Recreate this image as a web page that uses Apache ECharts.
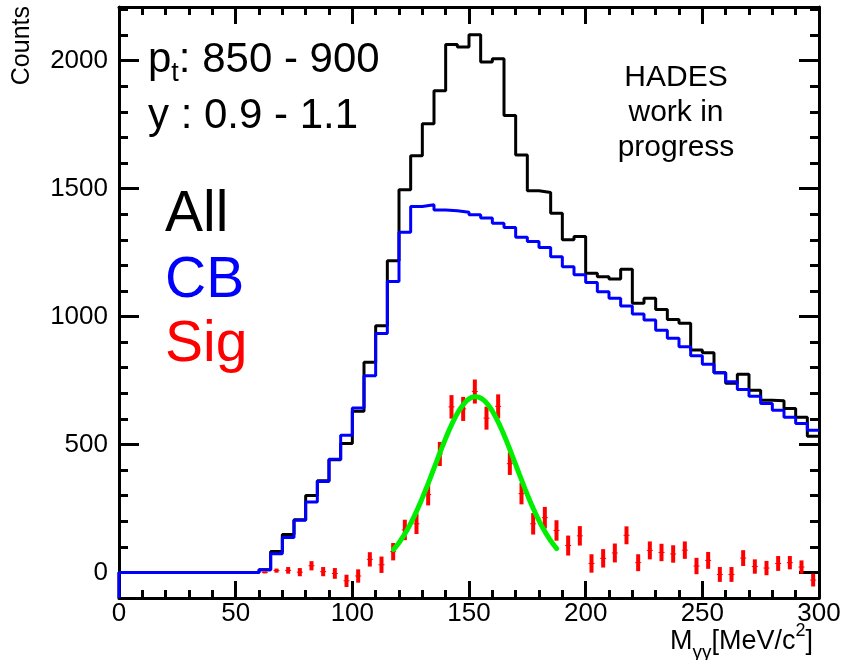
<!DOCTYPE html>
<html>
<head>
<meta charset="utf-8">
<title>M_gg spectrum</title>
<script src="https://cdn.jsdelivr.net/npm/echarts@6/dist/echarts.min.js"></script>
<style>
  html, body { margin: 0; padding: 0; background: #fff; }
  #chart { width: 842px; height: 660px; }
</style>
</head>
<body>
<div id="chart"></div>
<script>
// histogram binning: 60 bins of 5 MeV/c2 from 0 to 300
var binWidth = 5;
var xMin = 0, xMax = 300;
var yMin = -100, yMax = 2210;

// "All" (black)
var allCounts = [
  0, 0, 0, 0, 0, 0, 0, 0, 0, 0, 0, 0,
  10, 82, 148, 206, 301, 358, 440, 504, 630, 821,
  964, 1218, 1496, 1629, 1754, 1883, 2063, 2054, 2102, 1995,
  2008, 1786, 1632, 1492, 1485, 1404, 1300, 1313, 1169, 1156,
  1147, 1185, 1052, 1072, 1028, 989, 974, 869, 859, 780,
  739, 775, 712, 673, 671, 641, 606, 532
];
// "CB" combinatorial background (blue)
var cbCounts = [
  0, 0, 0, 0, 0, 0, 0, 0, 0, 0, 0, 0,
  10, 73, 136, 204, 275, 355, 442, 536, 643, 769,
  934, 1137, 1330, 1430, 1437, 1417, 1414, 1408, 1398, 1385,
  1365, 1348, 1310, 1293, 1270, 1234, 1195, 1163, 1133, 1097,
  1072, 1041, 1010, 987, 947, 915, 882, 847, 814, 780,
  745, 715, 689, 660, 634, 606, 582, 556
];
// "Sig" signal points (red) and their errors
var sigValues = [
  null, null, null, null, null, null, null, null, null, null, null, null,
  0, 7, 8, 1, 26, 3, -4, -33, -14, 51,
  30, 81, 166, 190, 304, 463, 647, 639, 707, 603,
  649, 425, 308, 190, 214, 164, 105, 143, 35, 55,
  76, 145, 38, 86, 78, 72, 87, 25, 47, -8,
  -8, 56, 23, 17, 35, 38, 21, -30
];
var sigErrors = [
  null, null, null, null, null, null, null, null, null, null, null, null,
  4, 8, 13, 16, 18, 18, 21, 24, 26, 28,
  32, 34, 40, 40, 42, 47, 46, 47, 47, 45,
  47, 44, 42, 42, 42, 40, 39, 38, 36, 36,
  37, 35, 33, 35, 34, 34, 34, 32, 33, 29,
  29, 31, 28, 28, 29, 26, 26, 25
];

// gaussian fit (green), parameters
var fitAmp = 687, fitMean = 152.8, fitSigma = 17.4;
var fitFrom = 117.6, fitTo = 187.9;

var font = '"Liberation Sans", Arial, Helvetica, sans-serif';

// plot frame in pixels
var gLeft = 119, gRight = 23, gTop = 7, gBottom = 62;
var plotH = 660 - gTop - gBottom;
// major-tick axis starts at -500 so its 500-steps land on 0, 500, ...; its grid reaches below the frame
var tickMin = -500;
var tickBottom = gBottom - (yMin - tickMin) * plotH / (yMax - yMin);

// step outline, ROOT style: start from frame bottom
function stepData(counts) {
  var pts = [[xMin, yMin]];
  for (var i = 0; i < counts.length; i++) pts.push([i * binWidth, counts[i]]);
  pts.push([counts.length * binWidth, counts[counts.length - 1]]);
  return pts;
}

var sigData = [];
for (var i = 0; i < sigValues.length; i++) {
  if (sigValues[i] === null) continue;
  sigData.push([(i + 0.5) * binWidth, sigValues[i], sigErrors[i]]);
}

var fitData = [];
for (var x = fitFrom; x <= fitTo + 1e-9; x += 0.5) {
  fitData.push([x, fitAmp * Math.exp(-0.5 * Math.pow((x - fitMean) / fitSigma, 2))]);
}

var blackLine = { color: '#000', width: 3 };

function xAx(pos, labels) {
  return {
    type: 'value', gridIndex: 0, position: pos, min: xMin, max: xMax, interval: 50,
    axisLine: { show: true, onZero: false, lineStyle: blackLine },
    axisTick: { show: true, inside: true, length: 17, lineStyle: blackLine },
    minorTick: { show: true, splitNumber: 5, length: 8, lineStyle: blackLine },
    axisLabel: labels ? { show: true, color: '#000', fontSize: 26, fontFamily: font, margin: 3 } : { show: false },
    splitLine: { show: false }, minorSplitLine: { show: false }
  };
}

// frame y axes on the data grid, carrying the short ticks every 100
function yFrame(pos) {
  return {
    type: 'value', gridIndex: 0, position: pos, min: yMin, max: yMax, interval: 100,
    axisLine: { show: true, onZero: false, lineStyle: blackLine },
    axisTick: { show: true, inside: true, length: 9, lineStyle: blackLine },
    axisLabel: { show: false }, splitLine: { show: false }
  };
}

// long ticks and labels every 500, on the extended grid
function yMajorAx(pos, labels) {
  return {
    type: 'value', gridIndex: 1, position: pos, min: tickMin, max: yMax, interval: 500,
    axisLine: { show: false },
    axisTick: { show: true, inside: true, length: 20, lineStyle: blackLine },
    axisLabel: labels ? {
      show: true, color: '#000', fontSize: 26, fontFamily: font, margin: 11,
      showMaxLabel: false,
      formatter: function (v) { return v >= 0 && v <= 2000 ? String(v) : ''; }
    } : { show: false },
    splitLine: { show: false }
  };
}

var chart = echarts.init(document.getElementById('chart'), null, { renderer: 'canvas' });

var option = {
  animation: false,
  backgroundColor: '#fff',
  grid: [
    { left: gLeft, right: gRight, top: gTop, bottom: gBottom, containLabel: false, outerBoundsMode: 'none' },
    { left: gLeft, right: gRight, top: gTop, bottom: tickBottom, containLabel: false, outerBoundsMode: 'none' }
  ],
  xAxis: [
    xAx('bottom', true),
    xAx('top', false),
    { type: 'value', gridIndex: 1, min: xMin, max: xMax, show: false }
  ],
  yAxis: [
    yFrame('left'),
    yFrame('right'),
    yMajorAx('left', true),
    yMajorAx('right', false)
  ],
  series: [
    {
      name: 'All', type: 'line', step: 'end', data: stepData(allCounts),
      xAxisIndex: 0, yAxisIndex: 0,
      showSymbol: false, symbol: 'none', z: 2,
      lineStyle: { color: '#000', width: 3 }
    },
    {
      name: 'CB', type: 'line', step: 'end', data: stepData(cbCounts),
      xAxisIndex: 0, yAxisIndex: 0,
      showSymbol: false, symbol: 'none', z: 3,
      lineStyle: { color: '#0000ff', width: 3 }
    },
    {
      name: 'Sig', type: 'custom', z: 4,
      xAxisIndex: 0, yAxisIndex: 0,
      data: sigData,
      encode: { x: 0, y: 1 },
      renderItem: function (params, api) {
        var x = api.value(0), y = api.value(1), e = api.value(2);
        var hi = api.coord([x, y + e]);
        var lo = api.coord([x, y - e]);
        var c = api.coord([x, y]);
        return {
          type: 'group',
          children: [
            { type: 'line', shape: { x1: hi[0], y1: hi[1], x2: lo[0], y2: lo[1] },
              style: { stroke: '#ff0000', lineWidth: 4 } },
            { type: 'line', shape: { x1: c[0] - 3, y1: c[1], x2: c[0] + 3, y2: c[1] },
              style: { stroke: '#ff0000', lineWidth: 1 } }
          ]
        };
      }
    },
    {
      name: 'fit', type: 'line', data: fitData,
      xAxisIndex: 0, yAxisIndex: 0,
      showSymbol: false, symbol: 'none', z: 5,
      lineStyle: { color: '#00ee00', width: 5, cap: 'round' }
    }
  ],
  graphic: [
    { type: 'text', x: 22, y: 6, rotation: Math.PI / 2,
      style: { text: 'Counts', font: '25px ' + font, fill: '#000', align: 'right', verticalAlign: 'middle' } },
    { type: 'text', x: 813, y: 642,
      style: {
        text: '{n|M}{s|γγ}{n|[MeV/c}{p|2}{n|]}', align: 'right', verticalAlign: 'middle',
        fill: '#000',
        rich: {
          n: { fontSize: 27, fontFamily: font, lineHeight: 40, verticalAlign: 'middle', fill: '#000' },
          s: { fontSize: 19, fontFamily: font, lineHeight: 24, verticalAlign: 'bottom', fill: '#000' },
          p: { fontSize: 18, fontFamily: font, lineHeight: 24, verticalAlign: 'top', fill: '#000' }
        }
      } },
    { type: 'text', x: 148, y: 60,
      style: {
        text: '{n|p}{s|t}{n|: 850 - 900}', align: 'left', verticalAlign: 'middle', fill: '#000',
        rich: {
          n: { fontSize: 42, fontFamily: font, lineHeight: 54, verticalAlign: 'middle', fill: '#000' },
          s: { fontSize: 27, fontFamily: font, lineHeight: 27, verticalAlign: 'bottom', fill: '#000' }
        }
      } },
    { type: 'text', x: 148, y: 116,
      style: { text: 'y : 0.9 - 1.1', font: '42px ' + font, fill: '#000', align: 'left', verticalAlign: 'middle' } },
    { type: 'text', x: 165, y: 215,
      style: { text: 'All', font: '57px ' + font, fill: '#000', align: 'left', verticalAlign: 'middle' } },
    { type: 'text', x: 165, y: 281,
      style: { text: 'CB', font: '57px ' + font, fill: '#0000ff', align: 'left', verticalAlign: 'middle' } },
    { type: 'text', x: 165, y: 345,
      style: { text: 'Sig', font: '57px ' + font, fill: '#ff0000', align: 'left', verticalAlign: 'middle' } },
    { type: 'text', x: 676, y: 60,
      style: { text: 'HADES\nwork in\nprogress', font: '30px ' + font, lineHeight: 35,
        fill: '#000', align: 'center', verticalAlign: 'top' } }
  ]
};

chart.setOption(option);
</script>
</body>
</html>
